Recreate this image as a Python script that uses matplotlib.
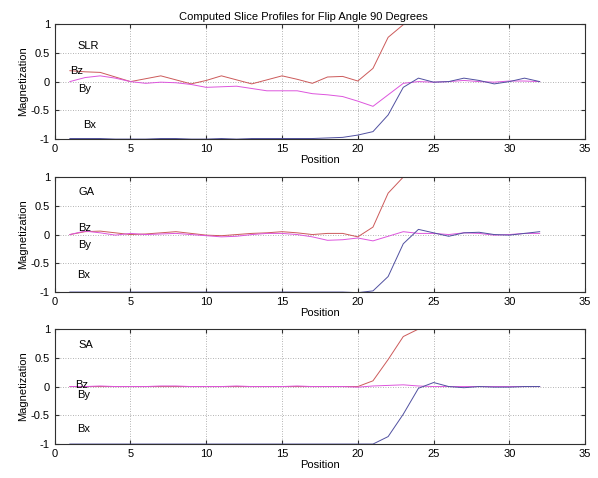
import matplotlib
matplotlib.use('Agg')
import matplotlib.pyplot as plt

plt.rcParams['font.family'] = ['Liberation Sans', 'DejaVu Sans']
plt.rcParams['font.size'] = 8

# Slice position index
position = [1, 2, 3, 4, 5, 6, 7, 8, 9, 10, 11, 12, 13, 14, 15, 16,
            17, 18, 19, 20, 21, 22, 23, 24, 25, 26, 27, 28, 29, 30, 31, 32]

# SLR pulse
slr_bz = [0.19, 0.17, 0.16, 0.08, 0.00, 0.05, 0.10, 0.03, -0.04, 0.02, 0.10, 0.03,
          -0.04, 0.03, 0.10, 0.04, -0.03, 0.08, 0.09, 0.01, 0.23, 0.77, 0.99, 1.02,
          1.02, 1.02, 1.02, 1.02, 1.02, 1.02, 1.02, 1.02]
slr_by = [0.00, 0.07, 0.10, 0.06, 0.00, -0.03, -0.01, -0.02, -0.05, -0.10, -0.09, -0.08,
          -0.12, -0.16, -0.16, -0.16, -0.21, -0.23, -0.26, -0.34, -0.43, -0.23, -0.03, 0.00,
          -0.01, 0.00, 0.02, 0.00, -0.01, 0.01, 0.01, 0.00]
slr_bx = [-0.99, -0.99, -0.99, -1.00, -1.00, -1.00, -0.99, -0.99, -1.00, -1.00, -0.99, -1.00,
          -0.99, -0.99, -0.99, -0.99, -0.99, -0.98, -0.97, -0.93, -0.87, -0.58, -0.10, 0.06,
          -0.01, 0.00, 0.06, 0.02, -0.04, 0.00, 0.06, 0.00]

# GA pulse
ga_bz = [0.00, 0.05, 0.06, 0.03, 0.00, 0.01, 0.03, 0.05, 0.02, -0.01, -0.02, 0.00,
         0.02, 0.03, 0.05, 0.03, 0.00, 0.02, 0.02, -0.04, 0.13, 0.72, 1.00, 1.02,
         1.02, 1.02, 1.02, 1.02, 1.02, 1.02, 1.02, 1.02]
ga_by = [0.00, 0.06, 0.03, -0.01, 0.02, 0.00, 0.01, 0.02, 0.00, -0.02, -0.04, -0.03,
         0.00, 0.02, 0.02, 0.00, -0.04, -0.10, -0.09, -0.06, -0.11, -0.03, 0.05, 0.02,
         0.02, 0.00, 0.03, 0.02, -0.01, 0.00, 0.02, 0.02]
ga_bx = [-1.00, -1.00, -1.00, -1.00, -1.00, -1.00, -1.00, -1.00, -1.00, -1.00, -1.00, -1.00,
         -1.00, -1.00, -1.00, -1.00, -1.00, -1.00, -1.00, -1.01, -0.98, -0.73, -0.16, 0.09,
         0.03, -0.03, 0.03, 0.04, 0.00, -0.01, 0.02, 0.05]

# SA pulse
sa_bz = [0.00, 0.00, 0.00, 0.00, 0.00, 0.00, 0.00, 0.00, 0.00, 0.00, 0.00, 0.00,
         0.00, 0.00, 0.00, 0.00, 0.00, 0.00, 0.00, 0.00, 0.10, 0.47, 0.87, 1.00,
         1.00, 1.00, 1.00, 1.00, 1.00, 1.00, 1.00, 1.00]
sa_by = [0.00, 0.00, 0.01, 0.00, 0.00, 0.00, 0.01, 0.01, 0.00, 0.00, 0.00, 0.01,
         0.00, 0.00, 0.00, 0.01, 0.00, 0.00, 0.00, -0.01, 0.01, 0.02, 0.03, 0.01,
         0.00, 0.00, 0.00, 0.00, 0.00, 0.00, 0.00, 0.00]
sa_bx = [-1.00, -1.00, -1.00, -1.00, -1.00, -1.00, -1.00, -1.00, -1.00, -1.00, -1.00, -1.00,
         -1.00, -1.00, -1.00, -1.00, -1.00, -1.00, -1.00, -1.00, -1.00, -0.87, -0.48, -0.03,
         0.07, 0.00, -0.02, 0.00, -0.01, -0.01, 0.00, 0.00]

pulse_names = ['SLR', 'GA', 'SA']
bz_data = [slr_bz, ga_bz, sa_bz]
by_data = [slr_by, ga_by, sa_by]
bx_data = [slr_bx, ga_bx, sa_bx]

# in-plot label anchors (x, y) per panel: name, Bz, By, Bx
label_pos = [
    [(1.5, 0.62), (1.0, 0.19), (1.55, -0.13), (1.85, -0.75)],
    [(1.6, 0.74), (1.55, 0.11), (1.55, -0.19), (1.5, -0.71)],
    [(1.6, 0.73), (1.35, 0.03), (1.5, -0.14), (1.5, -0.74)],
]

c_bz = '#cc5a5a'
c_by = '#dd55dd'
c_bx = '#5050a0'
spine_c = '#303030'

fig = plt.figure(figsize=(5.98, 4.78), dpi=100)
bottoms = [0.709, 0.389, 0.071]

for i in range(3):
    ax = fig.add_axes([0.0915, bottoms[i], 0.887, 0.2406])
    ax.plot(position, bz_data[i], color=c_bz, lw=0.7)
    ax.plot(position, by_data[i], color=c_by, lw=0.7)
    ax.plot(position, bx_data[i], color=c_bx, lw=0.7)
    ax.set_xlim(0, 35)
    ax.set_ylim(-1, 1)
    ax.set_xticks([0, 5, 10, 15, 20, 25, 30, 35])
    ax.set_yticks([-1, -0.5, 0, 0.5, 1])
    ax.set_yticklabels(['-1', '-0.5', '0', '0.5', '1'])
    ax.grid(True, linestyle=(0, (1, 2)), color='#9a9a9a', linewidth=0.6)
    ax.tick_params(direction='in', length=3, colors=spine_c, labelcolor='black',
                   labelsize=8, top=True, right=True)
    for s in ax.spines.values():
        s.set_color(spine_c)
        s.set_linewidth(0.8)
    ax.set_xlabel('Position', fontsize=8, labelpad=1)
    ax.set_ylabel('Magnetization', fontsize=8, labelpad=2)
    texts = [pulse_names[i], 'Bz', 'By', 'Bx']
    for t, (tx, ty) in zip(texts, label_pos[i]):
        ax.text(tx, ty, t, fontsize=8, ha='left', va='center')
    if i == 0:
        ax.set_title('Computed Slice Profiles for Flip Angle 90 Degrees', fontsize=8,
                     pad=3, x=0.468)

fig.savefig('out.png', dpi=100)
